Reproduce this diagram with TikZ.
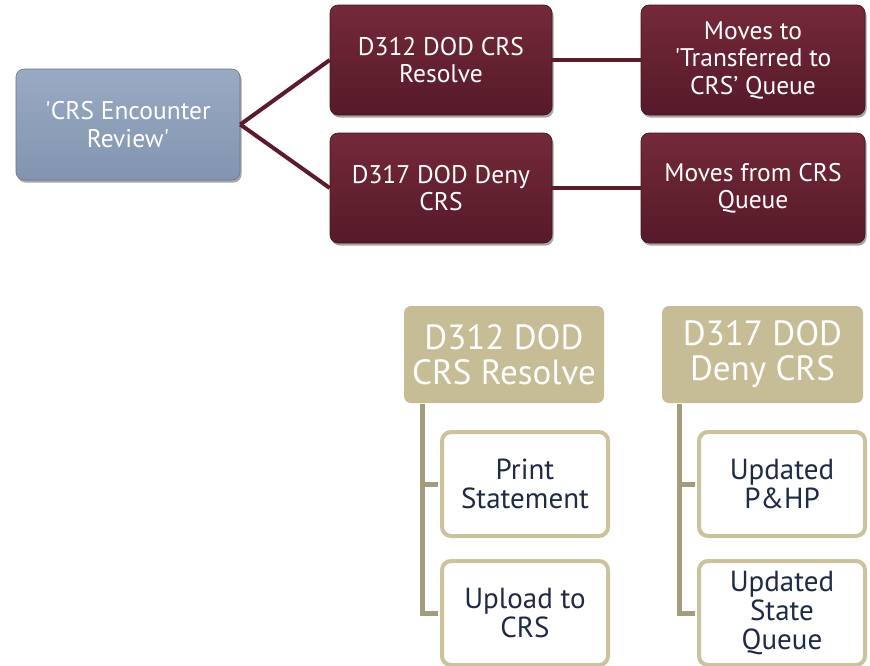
\documentclass[tikz,border=0pt]{standalone}
\usepackage{fontspec}
\setmainfont{PT Sans}
\usetikzlibrary{shadows}
\definecolor{maroonA}{HTML}{74293A}
\definecolor{maroonB}{HTML}{561A28}
\definecolor{maroonLine}{HTML}{5A1C2A}
\definecolor{blueA}{HTML}{9AAAC4}
\definecolor{blueB}{HTML}{8294B0}
\definecolor{beige}{HTML}{C6BD97}
\definecolor{beigeLine}{HTML}{A39D7E}
\definecolor{beigeBorder}{HTML}{CBC39E}
\definecolor{navy}{HTML}{1F2A44}
\begin{document}
\begin{tikzpicture}[x=1pt,y=-1pt,
  boxshadow/.style={drop shadow={opacity=0.35,shadow xshift=1.5pt,shadow yshift=-2.5pt,fill=black}},
  bluebox/.style={rounded corners=8pt,draw=blueB!80!black,line width=0.6pt,top color=blueA,bottom color=blueB,
    minimum width=224pt,minimum height=111pt,inner sep=0pt,align=center,text=white,
    font=\fontsize{25.5}{27.5}\selectfont,boxshadow},
  redbox/.style={rounded corners=8pt,draw=maroonB!80!black,line width=0.6pt,top color=maroonA,bottom color=maroonB,
    minimum width=222pt,minimum height=110pt,inner sep=0pt,align=center,text=white,
    font=\fontsize{25.5}{27.5}\selectfont,boxshadow},
  headbox/.style={rounded corners=7pt,fill=beige,minimum width=200pt,minimum height=97pt,inner sep=0pt,
    align=center,text=white,font=\fontsize{35}{35}\selectfont},
  childbox/.style={rounded corners=9pt,draw=beigeBorder,line width=4pt,fill=white,minimum width=166pt,
    minimum height=104pt,inner sep=0pt,align=center,text=navy,font=\fontsize{29}{29}\selectfont},
  redline/.style={draw=maroonLine,line width=4pt},
  treeline/.style={draw=beigeLine,line width=5pt}]
\useasboundingbox (0,0) rectangle (870,665);
\fill[white] (0,0) rectangle (870,665);

\node[bluebox] (crs) at (128,124.5) {\textquotesingle CRS Encounter\\Review\textquotesingle};
\node[redbox] (d312) at (441,60) {D312 DOD CRS\\Resolve};
\node[redbox] (d317) at (441,188) {D317 DOD Deny\\CRS};
\node[redbox,minimum width=224pt] (mto) at (753,60) {Moves to\\\textquotesingle Transferred to\\CRS’ Queue};
\node[redbox,minimum width=224pt] (mfrom) at (753,188) {Moves from CRS\\Queue};

\node[headbox] (h1) at (504,354.5) {D312 DOD\\CRS Resolve};
\node[headbox,minimum width=201pt] (h2) at (762.5,354.5) {D317 DOD\\Deny CRS};

\coordinate (t1) at (422,404);
\coordinate (t2) at (679,404);
\node[childbox] (c1) at (525,484) {Print\\Statement};
\node[childbox] (c2) at (525,613) {Upload to\\CRS};
\node[childbox] (c3) at (782,484) {Updated\\P\&HP};
\node[childbox] (c4) at (782,613) {Updated\\State\\Queue};

\draw[redline] (crs.east) -- (d312.west);
\draw[redline] (crs.east) -- (d317.west);
\draw[redline] (d312.east) -- (mto.west);
\draw[redline] (d317.east) -- (mfrom.west);

\draw[treeline] (t1) |- ([xshift=-2pt]c2.west);
\draw[treeline] (t1 |- c1.west) -- ([xshift=-2pt]c1.west);
\draw[treeline] (t2) |- ([xshift=-2pt]c4.west);
\draw[treeline] (t2 |- c3.west) -- ([xshift=-2pt]c3.west);
\end{tikzpicture}
\end{document}
